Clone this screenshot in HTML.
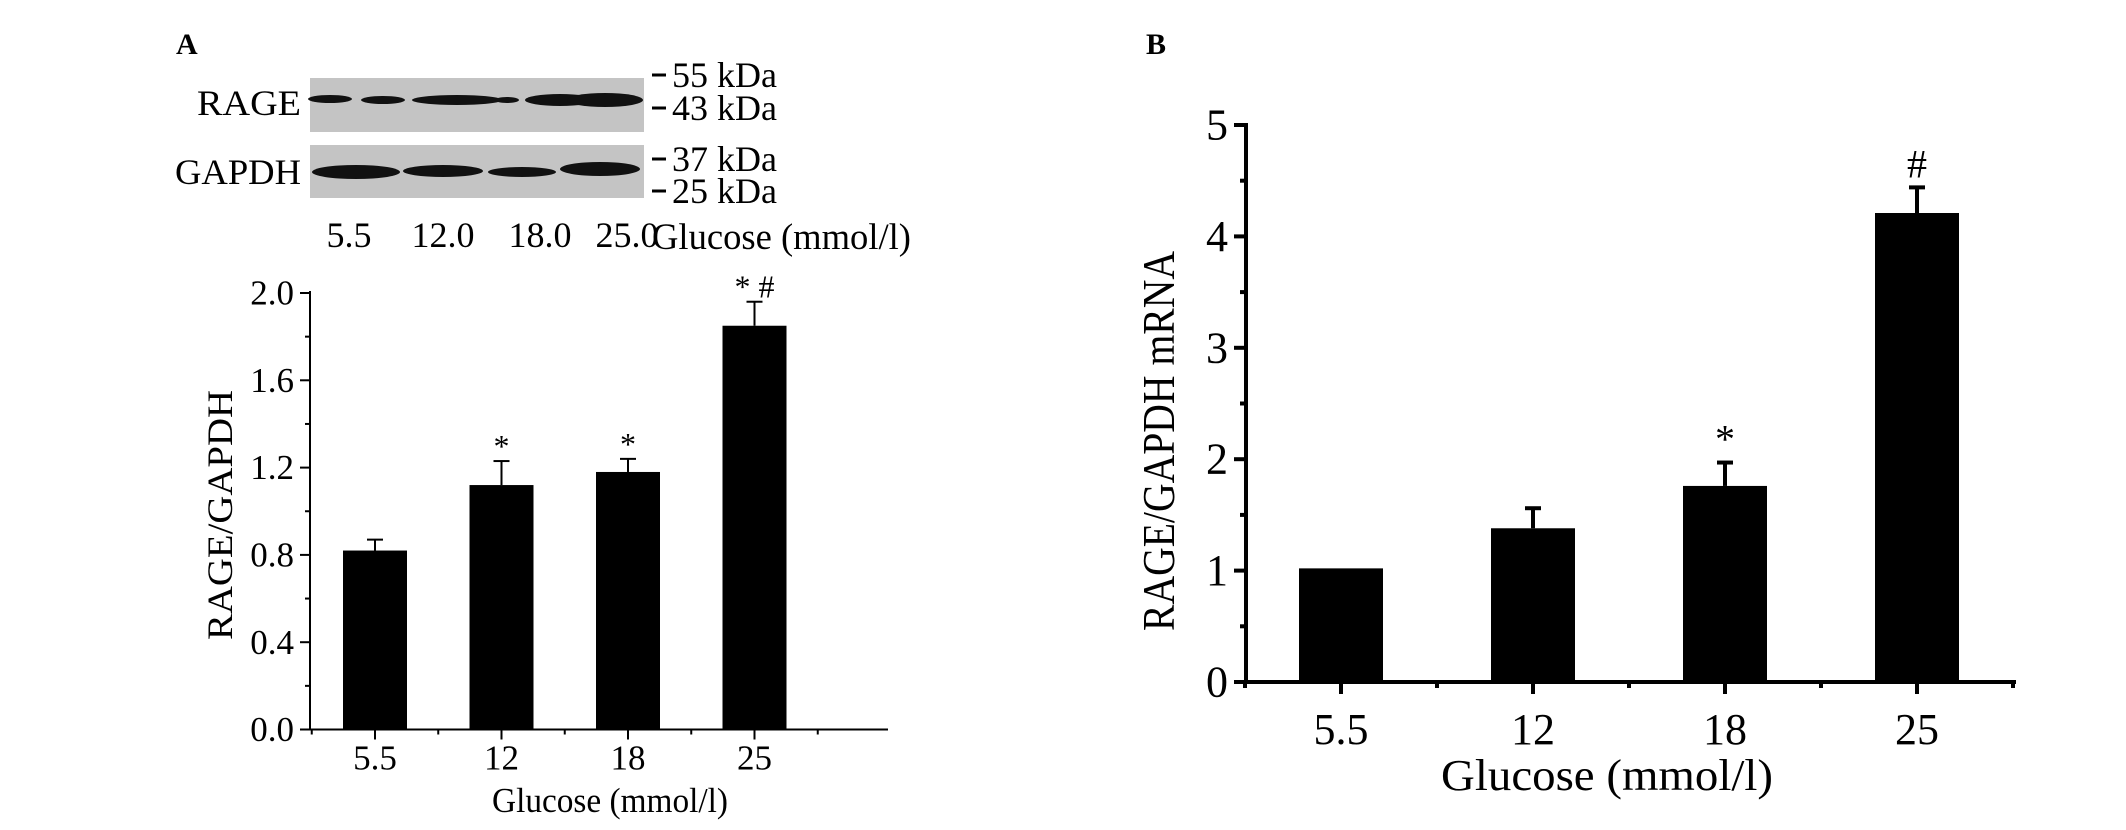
<!DOCTYPE html>
<html><head><meta charset="utf-8"><style>
html,body{margin:0;padding:0;background:#fff}
svg{display:block;font-family:"Liberation Serif",serif}
</style></head><body>
<svg id="fig" width="2126" height="830" viewBox="0 0 2126 830">
<text x="176" y="54" font-size="30" font-weight="bold">A</text>
<text x="1146" y="54" font-size="30" font-weight="bold">B</text>
<g>
<rect x="310" y="78" width="334" height="54" fill="#c4c4c4"/>
<rect x="310" y="145" width="334" height="53" fill="#c4c4c4"/>
<g fill="#111">
<ellipse cx="330" cy="99" rx="22" ry="4"/><ellipse cx="383" cy="100" rx="22" ry="4"/>
<ellipse cx="457" cy="100" rx="45" ry="5"/><ellipse cx="507" cy="100" rx="12" ry="3"/>
<ellipse cx="560" cy="100" rx="35" ry="6"/><ellipse cx="605" cy="100" rx="38" ry="7"/>
</g>
<g fill="#111">
<ellipse cx="356" cy="172" rx="44" ry="7"/><ellipse cx="443" cy="171" rx="40" ry="6"/>
<ellipse cx="522" cy="172" rx="34" ry="5"/><ellipse cx="600" cy="169" rx="40" ry="7"/>
</g>
<text x="301" y="115" font-size="36" text-anchor="end" textLength="104" lengthAdjust="spacingAndGlyphs">RAGE</text>
<text x="301" y="184" font-size="36" text-anchor="end" textLength="126" lengthAdjust="spacingAndGlyphs">GAPDH</text>
<g stroke="#000" stroke-width="3">
<line x1="652" y1="75" x2="666" y2="75"/><line x1="652" y1="108" x2="666" y2="108"/>
<line x1="652" y1="159" x2="666" y2="159"/><line x1="652" y1="191" x2="666" y2="191"/>
</g>
<g font-size="36">
<text x="672" y="87">55 kDa</text><text x="672" y="120">43 kDa</text>
<text x="672" y="171">37 kDa</text><text x="672" y="203">25 kDa</text>
</g>
<g font-size="36" text-anchor="middle">
<text x="349" y="247">5.5</text><text x="443" y="247">12.0</text>
<text x="540" y="247">18.0</text><text x="627" y="247">25.0</text>
</g>
<text x="652" y="249" font-size="37" textLength="259" lengthAdjust="spacingAndGlyphs">Glucose (mmol/l)</text>
</g>
<g id="chartA"></g>
<g id="chartB"></g>
</svg>
<script>
const catsA = ["5.5","12","18","25"];
const valsA = [0.82,1.12,1.18,1.85];
const errsA = [0.05,0.11,0.06,0.11];
const marksA = ["","*","*","* #"];
const ticksA = ["0.0","0.4","0.8","1.2","1.6","2.0"];
const catsB = ["5.5","12","18","25"];
const valsB = [1.02,1.38,1.76,4.21];
const errsB = [0,0.18,0.21,0.23];
const marksB = ["","","*","#"];
const ticksB = ["0","1","2","3","4","5"];
const NS="http://www.w3.org/2000/svg";
function mk(p,t,a){const e=document.createElementNS(NS,t);for(const k in a)e.setAttribute(k,a[k]);p.appendChild(e);return e;}
function draw(g,o){
 const y=v=>o.y0-(v-o.vmin)/(o.vmax-o.vmin)*(o.y0-o.y1);
 const x=i=>o.c0+i*o.step;
 const ya=mk(g,"line",{x1:o.x0,y1:o.y0,x2:o.x0,y2:o.y1-2,stroke:"#000","stroke-width":o.lw});
 
 
 const xa=mk(g,"line",{x1:o.x0,y1:o.y0,x2:o.xr,y2:o.y0,stroke:"#000","stroke-width":o.lw});
 
 
 const tv=o.ticks.map(Number); const d=tv[1]-tv[0];
 tv.forEach((v,i)=>{
  mk(g,"line",{x1:o.x0-o.tl,y1:y(v),x2:o.x0,y2:y(v),stroke:"#000","stroke-width":o.lw});
  if(i<tv.length-1) mk(g,"line",{x1:o.x0-o.tl/2,y1:y(v+d/2),x2:o.x0,y2:y(v+d/2),stroke:"#000","stroke-width":o.lw});
  const t=mk(g,"text",{x:o.x0-o.tl-6,y:y(v)+o.fs*0.33,"font-size":o.fs,"text-anchor":"end"});
  t.textContent=o.ticks[i];
  
  
 });
 o.cats.forEach((c,i)=>{
  mk(g,"line",{x1:x(i),y1:o.y0,x2:x(i),y2:o.y0+o.tl,stroke:"#000","stroke-width":o.lw});
  mk(g,"line",{x1:x(i)+o.step/2,y1:o.y0,x2:x(i)+o.step/2,y2:o.y0+o.tl/2,stroke:"#000","stroke-width":o.lw});
  if(i==0) mk(g,"line",{x1:x(i)-o.step/2,y1:o.y0,x2:x(i)-o.step/2,y2:o.y0+o.tl/2,stroke:"#000","stroke-width":o.lw});
  const t=mk(g,"text",{x:x(i),y:o.y0+o.lab,"font-size":o.fs,"text-anchor":"middle"});
  t.textContent=c;
  
  
  const v=o.vals[i],e=o.errs[i];
  if(e>0){
   mk(g,"line",{x1:x(i),y1:y(v),x2:x(i),y2:y(v+e),stroke:"#000","stroke-width":o.lw});
   mk(g,"line",{x1:x(i)-o.cap,y1:y(v+e),x2:x(i)+o.cap,y2:y(v+e),stroke:"#000","stroke-width":o.lw});
  }
  const b=mk(g,"rect",{x:x(i)-o.bw/2,y:y(v),width:o.bw,height:o.y0-y(v),fill:"#000"});
  
  
  if(o.marks[i]){
   const m=mk(g,"text",{x:x(i),y:y(v+e)-o.mo,"font-size":o.ms,"text-anchor":"middle"});
   m.textContent=o.marks[i];
   
   
  }
 });
 const xt=mk(g,"text",{x:o.xtx,y:o.xty,"font-size":o.xfs,"text-anchor":"middle","textLength":o.xtl,"lengthAdjust":"spacingAndGlyphs"});
 xt.textContent="Glucose (mmol/l)";
 
 
 const yt=mk(g,"text",{x:0,y:0,"font-size":o.yfs,"text-anchor":"middle","textLength":o.ytl,"lengthAdjust":"spacingAndGlyphs",transform:`translate(${o.ytx},${o.yty}) rotate(-90)`});
 yt.textContent=o.ytitle;
 
 
}
draw(document.getElementById("chartA"),{x0:310,xr:888,y0:729.5,y1:293,vmin:0,vmax:2,c0:375,step:126.5,bw:64,cap:8,lw:2,tl:10,fs:35,lab:40,
 cats:catsA,vals:valsA,errs:errsA,marks:marksA,ticks:ticksA,ms:32,mo:4,xtx:610,xty:812,xfs:35,xtl:236,yfs:36,ytl:250,ytx:232,yty:515,ytitle:"RAGE/GAPDH"});
draw(document.getElementById("chartB"),{x0:1246,xr:2016,y0:682,y1:125,vmin:0,vmax:5,c0:1341,step:192,bw:84,cap:8,lw:4,tl:12,fs:44,lab:62,
 cats:catsB,vals:valsB,errs:errsB,marks:marksB,ticks:ticksB,ms:40,mo:10,xtx:1607,xty:790,xfs:44,xtl:332,yfs:46,ytl:380,ytx:1174,yty:441,ytitle:"RAGE/GAPDH  mRNA"});
</script>
</body></html>
